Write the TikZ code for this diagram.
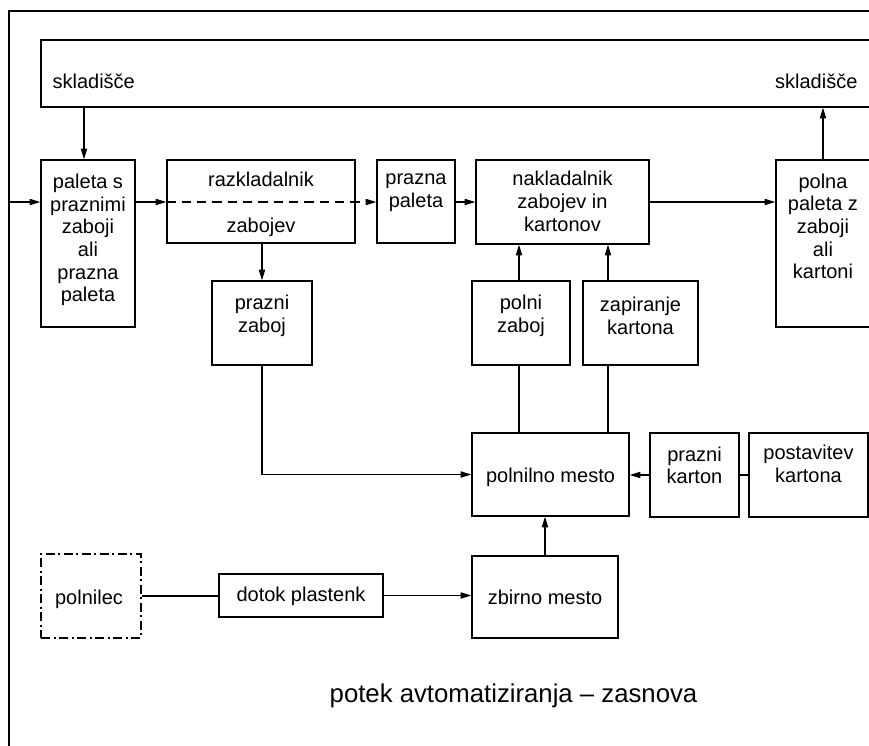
\documentclass[tikz,border=0pt]{standalone}
\usepackage{fontspec}
\setmainfont{Liberation Sans}
\usetikzlibrary{arrows.meta}
\begin{document}
\begin{tikzpicture}[x=0.75pt,y=-0.75pt,line width=0.9pt,
  box/.style 2 args={draw, rectangle, inner sep=0pt, minimum width=#1*0.75pt, minimum height=#2*0.75pt},
  lbl/.style={font=\fontsize{15}{17}\selectfont, align=center, inner sep=0pt},
  arr/.style={-{Triangle[length=8pt,width=4.6pt]}},
  dashline/.style={dash pattern=on 7pt off 4.5pt},
  dashdot/.style={dash pattern=on 7pt off 2.5pt on 1.5pt off 2.5pt},
  captxt/.style={font=\fontsize{19.3}{23}\selectfont, inner sep=0pt}]
\useasboundingbox (0,0) rectangle (869,746);
\clip (0,0) rectangle (869,746);

% frame
\draw (9,770) -- (9,11) -- (890,11);

% warehouse
\node[box={880}{67}] (sklad) at (481,73.5) {};
\node[lbl, anchor=base west] (skL) at (52,88) {skladišče};
\node[lbl, anchor=base east] (skR) at (858,88) {skladišče};

% top row
\node[box={94}{167}] (pal) at (88,243.5) {};
\node[lbl] (palT) at (88,240) {paleta s\\praznimi\\zaboji\\ali\\prazna\\paleta};

\node[box={188}{83}] (razk) at (261,201.5) {};
\node[lbl, anchor=base] (razkA) at (261,186) {razkladalnik};
\node[lbl, anchor=base] (razkB) at (261,232) {zabojev};

\node[box={78}{83}] (pp) at (416,201.5) {};
\node[lbl] (ppT) at (416,193) {prazna\\paleta};

\node[box={173}{84}] (nak) at (562.5,202) {};
\node[lbl] (nakT) at (562.5,201.5) {nakladalnik\\zabojev in\\kartonov};

\node[box={124}{167}] (polna) at (838,243.5) {};
\node[lbl] (polnaT) at (823,226.5) {polna\\paleta z\\zaboji\\ali\\kartoni};

% second row
\node[box={100}{84}] (pz) at (262,323) {};
\node[lbl] (pzT) at (262,316) {prazni\\zaboj};

\node[box={98}{84}] (polni) at (521,323) {};
\node[lbl] (polniT) at (521,316) {polni\\zaboj};

\node[box={115}{84}] (zap) at (640.5,323) {};
\node[lbl] (zapT) at (640.5,316) {zapiranje\\kartona};

% third row
\node[box={157}{83}] (pm) at (550.5,474.5) {};
\node[lbl, anchor=base] (pmT) at (550.5,482) {polnilno mesto};

\node[box={89}{84}] (pk) at (694.5,475) {};
\node[lbl] (pkT) at (694.5,465.5) {prazni\\karton};

\node[box={119}{84}] (post) at (808.5,475) {};
\node[lbl] (postT) at (808.5,464) {postavitev\\kartona};

% bottom row
\node[box={100}{84}, dashdot] (poln) at (91,596) {};
\node[lbl, anchor=base] (polnT) at (89,604) {polnilec};

\node[box={164}{43}] (dotok) at (301,595.5) {};
\node[lbl, anchor=base] (dotokT) at (301,601) {dotok plastenk};

\node[box={146}{82}] (zb) at (545,597) {};
\node[lbl, anchor=base] (zbT) at (545,604) {zbirno mesto};

% caption
\node[captxt, anchor=base] (capt) at (513.5,702) {potek avtomatiziranja – zasnova};

% connectors
\coordinate (inL) at (9,202);
\coordinate (xa) at (84,0);
\coordinate (xr) at (823,0);
\coordinate (xb) at (519,0);
\coordinate (xc) at (608,0);

\draw[arr] (inL) -- (inL -| pal.west);
\draw[arr] (xa |- sklad.south) -- (xa |- pal.north);
\draw[arr] (inL -| pal.east) -- (inL -| razk.west);
\draw[arr, dashline] (inL -| razk.west) -- (inL -| pp.west);
\draw[arr] (inL -| pp.east) -- (inL -| nak.west);
\draw[arr] (inL -| nak.east) -- (inL -| polna.west);
\draw[arr] (xr |- polna.north) -- (xr |- sklad.south);

\draw[arr] (pz.north |- razk.south) -- (pz.north);
\draw[arr] (pz.south) |- (pm.west);

\draw (xb |- pm.north) -- (xb |- polni.south);
\draw[arr] (xb |- polni.north) -- (xb |- nak.south);
\draw (xc |- pm.north) -- (xc |- zap.south);
\draw[arr] (xc |- zap.north) -- (xc |- nak.south);

\draw[arr] (pk.west) -- (pk.west -| pm.east);
\draw (post.west) -- (post.west -| pk.east);
\draw[arr] (zb.north) -- (zb.north |- pm.south);

\draw (poln.east) -- (poln.east -| dotok.west);
\draw[arr] (dotok.east) -- (dotok.east -| zb.west);
\end{tikzpicture}
\end{document}
